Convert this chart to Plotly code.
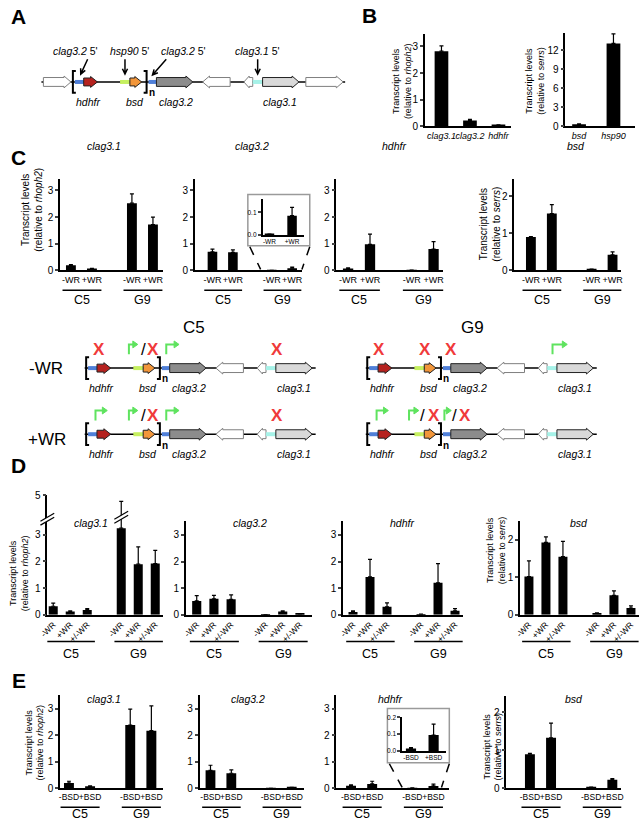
import numpy as np
import plotly.graph_objects as go

W, H = 642, 826
FONT = "Arial, 'Liberation Sans', sans-serif"

# ---------------- data ----------------
b_genes = ["clag3.1", "clag3.2", "hdhfr"]
b_rhoph2 = [2.82, 0.22, 0.04]
b_rhoph2_err = [0.20, 0.04, 0.02]
b_genes2 = ["bsd", "hsp90"]
b_serrs = [0.32, 13.1]
b_serrs_err = [0.08, 1.5]

lines = ["C5", "G9"]
wr = ["-WR", "+WR"]
wr3 = ["-WR", "+WR", "+/-WR"]
bsd_cond = ["-BSD", "+BSD"]

c_clag31 = [0.19, 0.07, 2.52, 1.72]
c_clag31_err = [0.03, 0.01, 0.35, 0.28]
c_clag32 = [0.70, 0.68, 0.003, 0.085]
c_clag32_err = [0.10, 0.09, 0.001, 0.037]
c_hdhfr = [0.07, 0.98, 0.01, 0.80]
c_hdhfr_err = [0.03, 0.38, 0.005, 0.28]
c_bsd = [0.90, 1.53, 0.03, 0.42]
c_bsd_err = [0.01, 0.24, 0.005, 0.08]

d_clag31 = [0.32, 0.12, 0.18, 3.25, 1.90, 1.92]
d_clag31_err = [0.12, 0.03, 0.05, 1.41, 0.65, 0.50]
d_clag32 = [0.52, 0.60, 0.58, 0.005, 0.12, 0.03]
d_clag32_err = [0.20, 0.13, 0.17, 0.0, 0.03, 0.01]
d_hdhfr = [0.10, 1.42, 0.30, 0.02, 1.20, 0.15]
d_hdhfr_err = [0.05, 0.66, 0.15, 0.01, 0.72, 0.08]
d_bsd = [1.02, 1.93, 1.55, 0.04, 0.52, 0.18]
d_bsd_err = [0.42, 0.15, 0.41, 0.01, 0.12, 0.06]

e_clag31 = [0.20, 0.08, 2.38, 2.17]
e_clag31_err = [0.07, 0.02, 0.60, 0.93]
e_clag32 = [0.68, 0.57, 0.005, 0.03]
e_clag32_err = [0.19, 0.13, 0.0, 0.01]
e_hdhfr = [0.10, 0.17, 0.015, 0.095]
e_hdhfr_err = [0.03, 0.10, 0.005, 0.065]
e_bsd = [0.90, 1.33, 0.03, 0.23]
e_bsd_err = [0.02, 0.39, 0.005, 0.03]

# colours of the locus drawings
BLUE, RED, LGREEN, ORANGE = "#4f7fd8", "#b5221f", "#c6f060", "#f2963a"
CYAN, DGRAY, LGRAY = "#a6f2e8", "#8c8c8c", "#d9d9d9"
GREEN, XRED = "#5fe35f", "#f03a3a"


def positions(conds, spacer):
    n = len(conds)
    return [j + g * (n + spacer) for g in range(len(lines)) for j in range(n)]


def broken(v, cut=3.5, k=0.653):
    # compress values above the axis break
    return v if v <= cut else cut + (v - cut) * k


fig = go.Figure()
# full-page pixel canvas for drawings and labels
fig.add_trace(go.Scatter(x=[None], y=[None], showlegend=False, hoverinfo="skip"))
fig.update_layout(
    width=W, height=H, autosize=False, margin=dict(l=0, r=0, t=0, b=0),
    paper_bgcolor="white", plot_bgcolor="rgba(0,0,0,0)", showlegend=False,
    font=dict(family=FONT, color="black"),
    xaxis=dict(domain=[0, 1], range=[0, W], visible=False, fixedrange=True),
    yaxis=dict(domain=[0, 1], range=[H, 0], visible=False, fixedrange=True),
)


def txt(x, y, s, size=10, color="black", angle=0, xref="x", **kw):
    fig.add_annotation(x=x, y=y, xref=xref, yref="y", text=s, showarrow=False,
                       textangle=angle, font=dict(family=FONT, size=size, color=color), **kw)


def shp(**kw):
    kw.setdefault("xref", "x")
    kw.setdefault("yref", "y")
    fig.add_shape(**kw)


geo = {}


def chart(k, pos, vals, errs, labels, ax, end, first, unit, zero, top, ymax,
          yticks, ytext=None, bw=0.47, xfont=9, yfont=10, angle=0):
    xa, ya = f"x{k}", f"y{k}"
    fig.add_trace(go.Bar(
        x=pos, y=vals, width=bw, xaxis=xa, yaxis=ya,
        marker=dict(color="black", line=dict(width=0)),
        error_y=dict(type="data", symmetric=False, array=errs,
                     arrayminus=[0] * len(vals), color="black", thickness=1.2, width=2),
        showlegend=False, hoverinfo="skip"))
    fig.update_layout({
        f"xaxis{k}": dict(domain=[ax / W, end / W],
                          range=[(ax - first) / unit, (end - first) / unit],
                          anchor=ya, showline=True, linecolor="black", linewidth=1.5,
                          showgrid=False, zeroline=False, tickmode="array",
                          tickvals=pos, ticktext=labels, ticks="", tickangle=angle,
                          tickfont=dict(size=xfont), fixedrange=True),
        f"yaxis{k}": dict(domain=[1 - zero / H, 1 - top / H], range=[0, ymax],
                          anchor=xa, showline=True, linecolor="black", linewidth=1.5,
                          showgrid=False, zeroline=False, ticks="outside", ticklen=3,
                          tickwidth=1.5, tickmode="array", tickvals=yticks,
                          ticktext=ytext if ytext else [str(t) for t in yticks],
                          tickfont=dict(size=yfont), fixedrange=True),
    })
    geo[k] = (first, unit, zero, (zero - top) / ymax)
    return xa


def groups(xa, pos, n, y_line, y_lab):
    for g, name in enumerate(lines):
        a, b = pos[g * n], pos[g * n + n - 1]
        shp(type="line", xref=xa, x0=a - 0.4, x1=b + 0.45, y0=y_line, y1=y_line,
            line=dict(color="black", width=1.5))
        txt((a + b) / 2 + 0.02, y_lab, name, size=12.5, xref=xa)


def ytitle(x, y, ref, size=9.5):
    txt(x, y, f"Transcript levels<br>(relative to <i>{ref}</i>)", size=size, angle=-90)


# ---------------- panel B ----------------
chart(2, list(range(3)), b_rhoph2, b_rhoph2_err, [f"<i>{g}</i>" for g in b_genes],
      423, 511, 440, 29, 123, 29, 3.48, [0, 1, 2, 3], bw=0.48, xfont=9)
chart(3, list(range(2)), b_serrs, b_serrs_err, [f"<i>{g}</i>" for g in b_genes2],
      566, 637, 580, 35, 123, 28, 14.8, [0, 3, 6, 9, 12], bw=0.4, xfont=9)
ytitle(400, 77, "rhoph2", 9)
ytitle(535, 77, "serrs", 9)

# ---------------- panel C ----------------
pc = positions(wr, 0.9)
c_specs = [
    (4, c_clag31, c_clag31_err, 52, 157, 63, 21.4, 3.44, [0, 1, 2, 3], "clag3.1", 97),
    (5, c_clag32, c_clag32_err, 189, 298, 207, 20.8, 3.44, [0, 1, 2, 3], "clag3.2", 247),
    (6, c_hdhfr, c_hdhfr_err, 333, 442, 345, 22.3, 3.44, [0, 1, 2, 3], "hdhfr", 392),
    (7, c_bsd, c_bsd_err, 514, 623, 531, 21.3, 2.47, [0, 1, 2], "bsd", 577),
]
for k, v, e, ax, end, first, unit, ymax, yt, title, tx in c_specs:
    xa = chart(k, pc, v, e, wr * 2, ax, end, first, unit, 269, 176, ymax, yt)
    groups(xa, pc, 2, 289, 299)
    txt(tx, 143, f"<i>{title}</i>", size=10.5)
ytitle(24, 208, "rhoph2", 10)
ytitle(489, 222, "serrs", 10)

# inset of clag3.2, G9
fig.add_shape(type="rect", xref="paper", yref="paper", layer="below",
              x0=243 / W, x1=306 / W, y0=1 - 244 / H, y1=1 - 192 / H,
              line=dict(color="#9a9a9a", width=1.5), fillcolor="white")
chart(8, [0, 1], c_clag32[2:], c_clag32_err[2:], wr, 258, 300, 265, 23, 233, 197, 0.157,
      [0, 0.1], ["0.0", "0.1"], bw=0.42, xfont=6.5, yfont=6.5)
shp(type="line", x0=245, y0=245, x1=256, y1=268, line=dict(color="black", width=1.5, dash="dash"))
shp(type="line", x0=306, y0=245, x1=298, y1=268, line=dict(color="black", width=1.5, dash="dash"))

# ---------------- panel D ----------------
pd_ = positions(wr3, 1)
d1_vals = [broken(v) for v in d_clag31]
d1_errs = [broken(v + e) - broken(v) for v, e in zip(d_clag31, d_clag31_err)]
d_specs = [
    (9, d1_vals, d1_errs, 39, 157, 45, 17.3, 497, 4.48, [0, 1, 2, 3, 4.48], ["0", "1", "2", "3", "5"], "clag3.1", 83),
    (10, d_clag32, d_clag32_err, 180, 308, 191, 17.5, 523, 3.52, [0, 1, 2, 3], None, "clag3.2", 245),
    (11, d_hdhfr, d_hdhfr_err, 340, 462, 350, 17.3, 523, 3.52, [0, 1, 2, 3], None, "hdhfr", 400),
    (12, d_bsd, d_bsd_err, 520, 641, 529, 17.3, 523, 2.5, [0, 1, 2], None, "bsd", 580),
]
for k, v, e, ax, end, first, unit, top, ymax, yt, ytx, title, tx in d_specs:
    xa = chart(k, pd_, v, e, wr3 * 2, ax, end, first, unit, 618, top, ymax, yt, ytx,
               bw=0.53, xfont=8.5, angle=-45)
    groups(xa, pd_, 3, 645, 658)
    txt(tx, 525, f"<i>{title}</i>", size=10.5)
ytitle(11, 576, "rhoph2", 9)
ytitle(495, 553, "serrs", 9)


def break_mark(xc, yc, half=7, gap=4, slope=4):
    p = (f"M{xc - half},{yc + slope} L{xc + half},{yc - slope} "
         f"L{xc + half},{yc - slope + gap} L{xc - half},{yc + slope + gap} Z")
    shp(type="path", path=p, fillcolor="white", line=dict(width=0))
    for o in (0, gap):
        shp(type="line", x0=xc - half, y0=yc + slope + o, x1=xc + half, y1=yc - slope + o,
            line=dict(color="black", width=1.2))


first, unit, zero, ppu = geo[9]
y_break = zero - 3.66 * ppu
break_mark(d_specs[0][3], y_break)
break_mark(first + pd_[3] * unit, y_break - 2)

# ---------------- panel E ----------------
e_specs = [
    (13, e_clag31, e_clag31_err, 52, 157, 61, 21.5, 699, 3.52, [0, 1, 2, 3], "clag3.1", 97),
    (14, e_clag32, e_clag32_err, 194, 300, 205, 21.2, 699, 3.52, [0, 1, 2, 3], "clag3.2", 243),
    (15, e_hdhfr, e_hdhfr_err, 333, 448, 348, 21.5, 699, 3.52, [0, 1, 2, 3], "hdhfr", 388),
    (16, e_bsd, e_bsd_err, 506, 623, 530, 21.5, 700, 2.44, [0, 1, 2], "bsd", 575),
]
for k, v, e, ax, end, first, unit, top, ymax, yt, title, tx in e_specs:
    xa = chart(k, pc, v, e, bsd_cond * 2, ax, end, first, unit, 794, top, ymax, yt, xfont=8.5)
    groups(xa, pc, 2, 813, 820)
    txt(tx, 703, f"<i>{title}</i>", size=10.5)
ytitle(26, 748, "rhoph2", 9)
ytitle(492, 752, "serrs", 9)

# inset of hdhfr, G9
fig.add_shape(type="rect", xref="paper", yref="paper", layer="below",
              x0=385 / W, x1=448 / W, y0=1 - 768 / H, y1=1 - 713 / H,
              line=dict(color="#9a9a9a", width=1.5), fillcolor="white")
chart(17, [0, 1], e_hdhfr[2:], e_hdhfr_err[2:], bsd_cond, 400, 445, 409, 23, 756, 722, 0.2,
      [0, 0.1, 0.2], ["0.0", "0.1", "0.2"], bw=0.45, xfont=6.5, yfont=6.5)
shp(type="line", x0=387, y0=769, x1=400, y1=793, line=dict(color="black", width=1.5, dash="dash"))
shp(type="line", x0=448, y0=769, x1=440, y1=793, line=dict(color="black", width=1.5, dash="dash"))

# ---------------- locus drawings (panel A and the C5 / G9 schemes) ----------------
LOCUS = [("seg", 67, 76, BLUE), ("arrow", 76, 90, RED), ("seg", 113, 123, LGREEN),
         ("arrow", 123, 135, ORANGE), ("seg", 142, 150, BLUE), ("arrow", 150, 187, DGRAY),
         ("arrow", 225, 197, "white"), ("arrow", 248, 239, "white"), ("seg", 248, 258, CYAN),
         ("arrow", 258, 295, LGRAY)]
GENE_LABELS = [("hdhfr", 80), ("bsd", 128), ("clag3.2", 170), ("clag3.1", 276)]


def block_arrow(x0, x1, y, fill, edge, h=4.5):
    d = 1 if x1 > x0 else -1
    head = min(7, 0.6 * abs(x1 - x0))
    xb = x1 - d * head
    hh = h + 1.5
    p = (f"M{x0},{y - h} L{xb},{y - h} L{xb},{y - hh} L{x1},{y} "
         f"L{xb},{y + hh} L{xb},{y + h} L{x0},{y + h} Z")
    shp(type="path", path=p, fillcolor=fill, line=dict(color=edge, width=1))


def locus(off, y, xs, xe, flanks=()):
    shp(type="line", x0=xs + off, x1=xe + off, y0=y, y1=y, line=dict(color="black", width=1.5))
    for a, b in flanks:
        block_arrow(a + off, b + off, y, "white", "#7f7f7f")
    for kind, a, b, col in LOCUS:
        if kind == "seg":
            shp(type="line", x0=a + off, x1=b + off, y0=y, y1=y, line=dict(color=col, width=4))
        else:
            block_arrow(a + off, b + off, y, col, "#7f7f7f" if col == "white" else "#222222",
                        h=4 if b - a < 20 and col != "white" else 4.5)
    bl, br = 65 + off, 140 + off
    shp(type="path", path=f"M{bl + 3},{y - 11} L{bl},{y - 11} L{bl},{y + 11} L{bl + 3},{y + 11}",
        line=dict(color="black", width=2))
    shp(type="path", path=f"M{br - 3},{y - 11} L{br},{y - 11} L{br},{y + 11} L{br - 3},{y + 11}",
        line=dict(color="black", width=2))
    txt(br + 5, y + 11, "<b>n</b>", size=10)
    for name, lx in GENE_LABELS:
        txt(lx + off, y + 20, f"<i>{name}</i>", size=10.5)


def bent(x1, x2, y):
    shp(type="path", path=f"M{x1},{y - 14} L{x1},{y - 24} L{x2 - 4},{y - 24}",
        line=dict(color=GREEN, width=2))
    shp(type="path", path=f"M{x2},{y - 24} L{x2 - 5},{y - 27.5} L{x2 - 5},{y - 20.5} Z",
        fillcolor=GREEN, line=dict(color=GREEN, width=1))


def marks(off, y, items):
    for it in items:
        if it[0] == "x":
            txt(it[1] + off, y - 19, "<b>X</b>", size=17, color=XRED)
        elif it[0] == "slash":
            txt(it[1] + off, y - 19, "/", size=17)
        else:
            bent(it[1] + off, it[2] + off, y)


def varrow(x0, y0, x1, y1, size=6):
    ang = np.arctan2(y1 - y0, x1 - x0)
    h1 = (x1 - size * np.cos(ang - 0.45), y1 - size * np.sin(ang - 0.45))
    h2 = (x1 - size * np.cos(ang + 0.45), y1 - size * np.sin(ang + 0.45))
    shp(type="path", path=(f"M{x0},{y0} L{x1},{y1} M{h1[0]:.1f},{h1[1]:.1f} "
                           f"L{x1},{y1} L{h2[0]:.1f},{h2[1]:.1f}"),
        line=dict(color="black", width=1.5))


# panel A
locus(0, 78, 33, 342, flanks=[(35, 63), (302, 340)])
for s, x, (ax0, ay0, ax1, ay1) in [("<i>clag3.2</i> 5'", 68, (80, 55, 73, 70)),
                                  ("<i>hsp90</i> 5'", 123, (118, 55, 118, 70)),
                                  ("<i>clag3.2</i> 5'", 178, (160, 55, 146, 71)),
                                  ("<i>clag3.1</i> 5'", 253, (253, 55, 253, 70))]:
    txt(x, 47, s, size=10.5)
    varrow(ax0, ay0, ax1, ay1)

# C5 / G9 schemes
OFF_C5, OFF_G9 = 13.5, 299.5
ROW1, ROW2 = 368, 435
for off in (OFF_C5, OFF_G9):
    for y in (ROW1, ROW2):
        locus(off, y, 63.5, 298.5)
marks(OFF_C5, ROW1, [("x", 78.5), ("bent", 108.5, 117.5), ("slash", 123.5), ("x", 132.5),
                     ("bent", 146.5, 159.5), ("x", 259.5)])
marks(OFF_C5, ROW2, [("bent", 74.5, 86.5), ("bent", 108.5, 117.5), ("slash", 123.5),
                     ("x", 132.5), ("bent", 146.5, 159.5), ("x", 259.5)])
marks(OFF_G9, ROW1, [("x", 76.5), ("x", 123.5), ("x", 150.5), ("bent", 253.5, 268.5)])
marks(OFF_G9, ROW2, [("bent", 74.5, 86.5), ("bent", 107.5, 117.5), ("slash", 121),
                     ("x", 132.5), ("bent", 143.5, 150.5), ("slash", 154), ("x", 164.5)])
txt(188, 327, "C5", size=17)
txt(472, 327, "G9", size=17)
txt(38, 368, "-WR", size=17)
txt(39, 440, "+WR", size=17)

# panel letters
for s, x, y in [("A", 10, 12), ("B", 367, 11), ("C", 10, 155), ("D", 10, 467), ("E", 10, 685)]:
    txt(x, y, f"<b>{s}</b>", size=21)

fig.write_html("out.html", config={"displayModeBar": False},
               post_script="document.body.style.margin='0';"
                           "document.body.style.overflow='hidden';")
